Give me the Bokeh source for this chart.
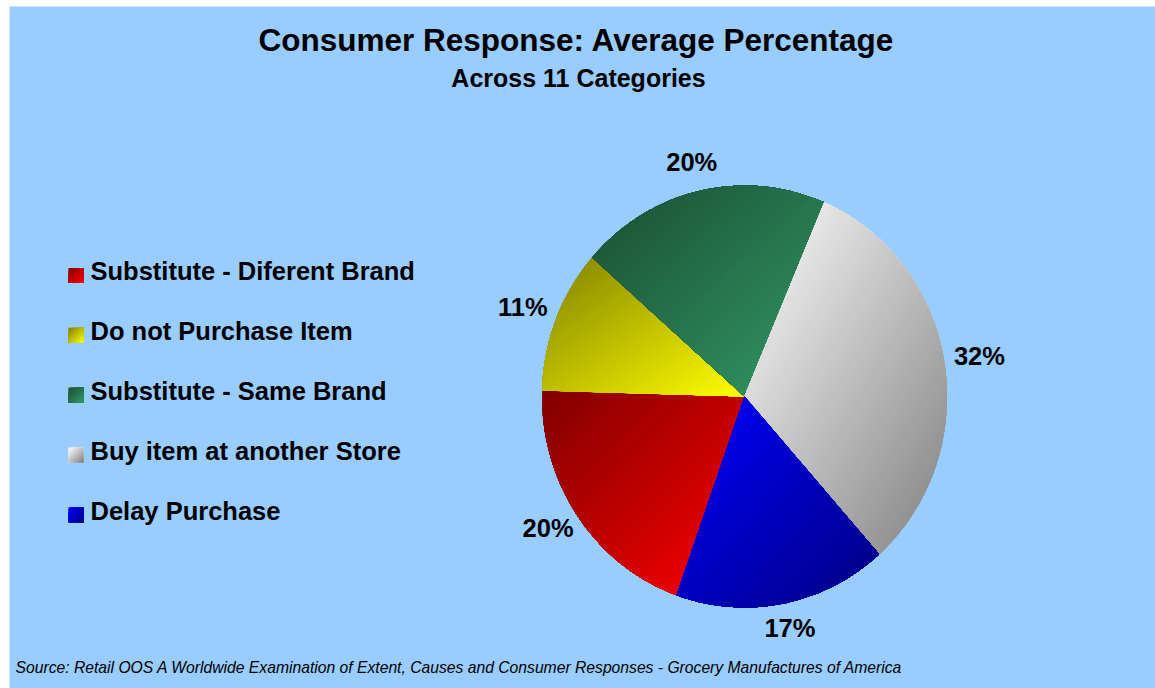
import math
from bokeh.plotting import figure
from bokeh.models import Range1d
from bokeh.core.properties import value
from bokeh.embed import file_html
from bokeh.resources import INLINE

# ---------------- data ----------------
categories = ["Substitute - Diferent Brand", "Do not Purchase Item",
              "Substitute - Same Brand", "Buy item at another Store",
              "Delay Purchase"]
percentages = [20, 11, 20, 32, 17]
pct_labels = ["20%", "11%", "20%", "32%", "17%"]
# gradient: colour at top-left corner -> colour at bottom-right corner
start_colors = ["#800000", "#808000", "#1A4D33", "#FFFFFF", "#0000FF"]
end_colors = ["#FF0000", "#FFFF00", "#339966", "#808080", "#000080"]

title_text = "Consumer Response: Average Percentage"
subtitle_text = "Across 11 Categories"
source_text = ("Source: Retail OOS A Worldwide Examination of Extent, Causes and "
               "Consumer Responses - Grocery Manufactures of America")

# ---------------- layout / style ----------------
W, H = 1155, 688
BG = "#99CCFF"
CX, CY = 744.0, 396.0
RX, RY = 202.5, 211.0
START_DEG = 250.4
LABEL_R = 238.0
FONT = "Liberation Sans"


def hex2rgb(h):
    h = h.lstrip("#")
    return tuple(int(h[i:i + 2], 16) for i in (0, 2, 4))


def mix(c0, c1, t):
    a, b = hex2rgb(c0), hex2rgb(c1)
    return "#%02x%02x%02x" % tuple(int(round(a[i] + (b[i] - a[i]) * t)) for i in range(3))


def clip_half(pts, g):
    out = []
    n = len(pts)
    for i in range(n):
        p, q = pts[i], pts[(i + 1) % n]
        gp, gq = g(p), g(q)
        if gp >= 0:
            out.append(p)
        if (gp >= 0) != (gq >= 0):
            t = gp / (gp - gq)
            out.append((p[0] + t * (q[0] - p[0]), p[1] + t * (q[1] - p[1])))
    return out


def gradient_bands(poly, c0, c1, n):
    """Overlapping bands: band k covers everything from k/n onwards, so
    later bands paint over earlier ones and no seams show."""
    xs_ = [p[0] for p in poly]
    ys_ = [p[1] for p in poly]
    x0, x1, y0, y1 = min(xs_), max(xs_), min(ys_), max(ys_)
    w = max(x1 - x0, 1e-6)
    h = max(y1 - y0, 1e-6)

    def f(p):
        return ((p[0] - x0) / w + (p[1] - y0) / h) / 2.0

    bx, by, bc = [], [], []
    for k in range(n):
        lo = -1 if k == 0 else k / n
        pts = clip_half(poly, lambda p: f(p) - lo)
        if len(pts) >= 3:
            bx.append([p[0] for p in pts])
            by.append([p[1] for p in pts])
            bc.append(mix(c0, c1, (k + 0.5) / n))
    return bx, by, bc


p = figure(width=W, height=H, x_range=Range1d(0, W), y_range=Range1d(H, 0),
           output_backend="svg", toolbar_location=None,
           x_axis_location=None, y_axis_location=None, min_border=0)
p.grid.visible = False
p.outline_line_color = None
p.background_fill_color = "white"
p.border_fill_color = "white"

# chart area panel
p.quad(left=[9], right=[W], top=[6], bottom=[H], fill_color=BG, line_color=None)

# ---------------- pie slices ----------------
total = float(sum(percentages))
all_x, all_y, all_c = [], [], []
lab_x, lab_y = [], []
a = START_DEG
for v, c0, c1 in zip(percentages, start_colors, end_colors):
    span = 360.0 * v / total
    a0, a1 = a, a - span  # clockwise
    npts = max(6, int(span * 1.5))
    poly = [(CX, CY)]
    for i in range(npts + 1):
        ang = math.radians(a0 + (a1 - a0) * i / npts)
        poly.append((CX + RX * math.cos(ang), CY - RY * math.sin(ang)))
    bx, by, bc = gradient_bands(poly, c0, c1, 70)
    all_x += bx
    all_y += by
    all_c += bc
    mid = math.radians((a0 + a1) / 2.0)
    lab_x.append(CX + LABEL_R * math.cos(mid))
    lab_y.append(CY - LABEL_R * math.sin(mid) - 2.5)
    a = a1

p.patches(xs=all_x, ys=all_y, fill_color=all_c, line_color=None)

p.text(x=lab_x, y=lab_y, text=pct_labels, text_font=value(FONT),
       text_font_style="bold", text_font_size="25.5px", text_color="black",
       text_align="center", text_baseline="middle")

# ---------------- legend ----------------
LEG_X, LEG_Y0, LEG_DY, SQ = 68.0, 267.5, 59.8, 15.0
lx, ly, lc = [], [], []
for i, (c0, c1) in enumerate(zip(start_colors, end_colors)):
    y0 = LEG_Y0 + LEG_DY * i
    sq = [(LEG_X, y0), (LEG_X + SQ, y0), (LEG_X + SQ, y0 + SQ), (LEG_X, y0 + SQ)]
    bx, by, bc = gradient_bands(sq, c0, c1, 12)
    lx += bx
    ly += by
    lc += bc
p.patches(xs=lx, ys=ly, fill_color=lc, line_color=None)
p.text(x=[90] * len(categories),
       y=[270.8 + LEG_DY * i for i in range(len(categories))],
       text=categories, text_font=value(FONT), text_font_style="bold",
       text_font_size="25.5px", text_color="black", text_baseline="middle")

# ---------------- titles ----------------
p.text(x=[576], y=[39.5], text=[title_text], text_font=value(FONT),
       text_font_style="bold", text_font_size="31.5px", text_color="black",
       text_align="center", text_baseline="middle")
p.text(x=[578], y=[77], text=[subtitle_text], text_font=value(FONT),
       text_font_style="bold", text_font_size="25px", text_color="black",
       text_align="center", text_baseline="middle")
p.text(x=[15], y=[666.5], text=[source_text], text_font=value(FONT),
       text_font_style="italic", text_font_size="15.7px", text_color="black",
       text_baseline="middle")

open("out.html", "w").write(file_html(p, INLINE))
